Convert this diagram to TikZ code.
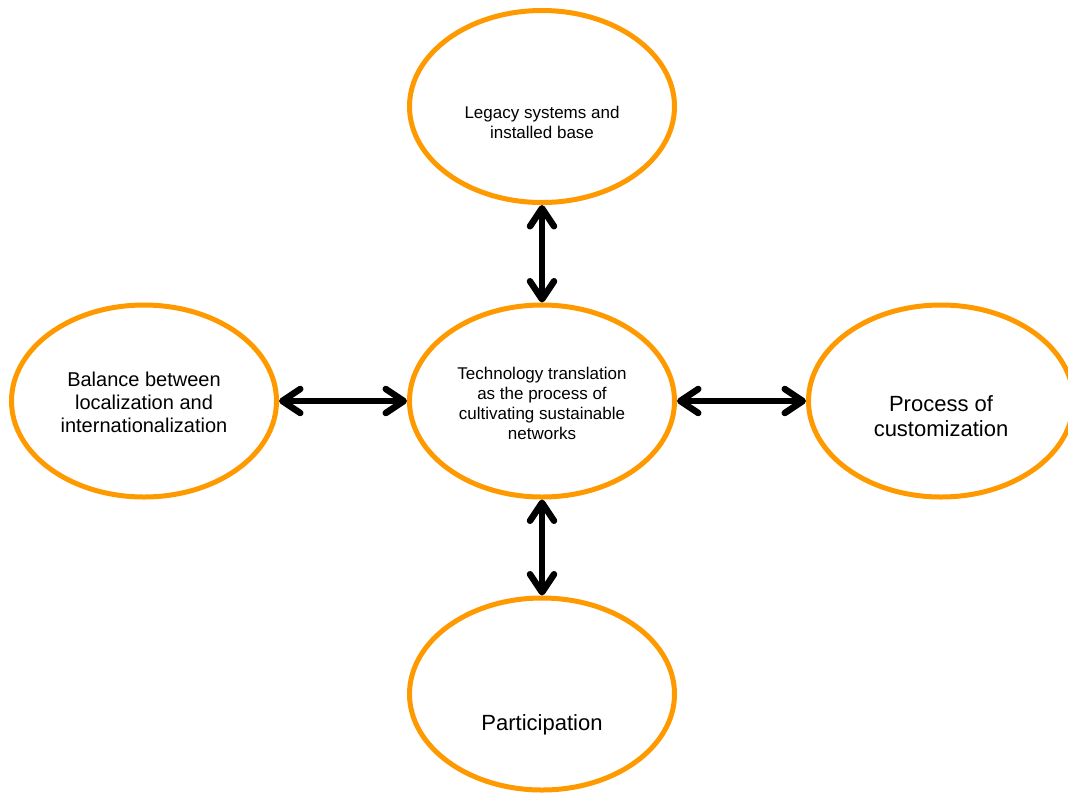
\documentclass[tikz,border=0pt]{standalone}
\usepackage{fontspec}
\setmainfont{Liberation Sans}
\usetikzlibrary{arrows.meta,shapes.geometric}
\definecolor{ringorange}{RGB}{255,153,0}
\begin{document}
\begin{tikzpicture}[x=1pt,y=-1pt,
  ring/.style={ellipse, draw=ringorange, line width=5pt, minimum width=265pt,
    minimum height=192pt, inner sep=0pt},
  smalltext/.style={align=center, font=\fontsize{17}{20}\selectfont, inner sep=0pt},
  midtext/.style={align=center, font=\fontsize{20}{23}\selectfont, inner sep=0pt},
  bigtext/.style={align=center, font=\fontsize{22}{25}\selectfont, inner sep=0pt},
  barb/.tip={Straight Barb[length=18pt,width=24pt,round]},
  link/.style={line width=6.5pt, barb-barb}
]
\useasboundingbox (0,0) rectangle (1068,793);

% the five ellipses
\node[ring] (top)    at (542,106.5) {};
\node[ring] (centre) at (542,401) {};
\node[ring] (left)   at (144,401) {};
\node[ring] (right)  at (941,401) {};
\node[ring] (bottom) at (542,694) {};

% their texts
\node[smalltext] (toptext) at (542,122.5) {Legacy systems and\\installed base};
\node[smalltext] (centretext) at (542,403) {Technology translation\\as the process of\\cultivating sustainable\\networks};
\node[midtext] (lefttext) at (144,402) {Balance between\\localization and\\internationalization};
\node[bigtext] (righttext) at (941,416.5) {Process of\\customization};
\node[bigtext] (bottomtext) at (542,724.5) {Participation};

% two-way links to the central ellipse
\draw[link] (top.south) -- (centre.north);
\draw[link] (centre.south) -- (bottom.north);
\draw[link] (left.east) -- (centre.west);
\draw[link] (centre.east) -- (right.west);
\end{tikzpicture}
\end{document}
